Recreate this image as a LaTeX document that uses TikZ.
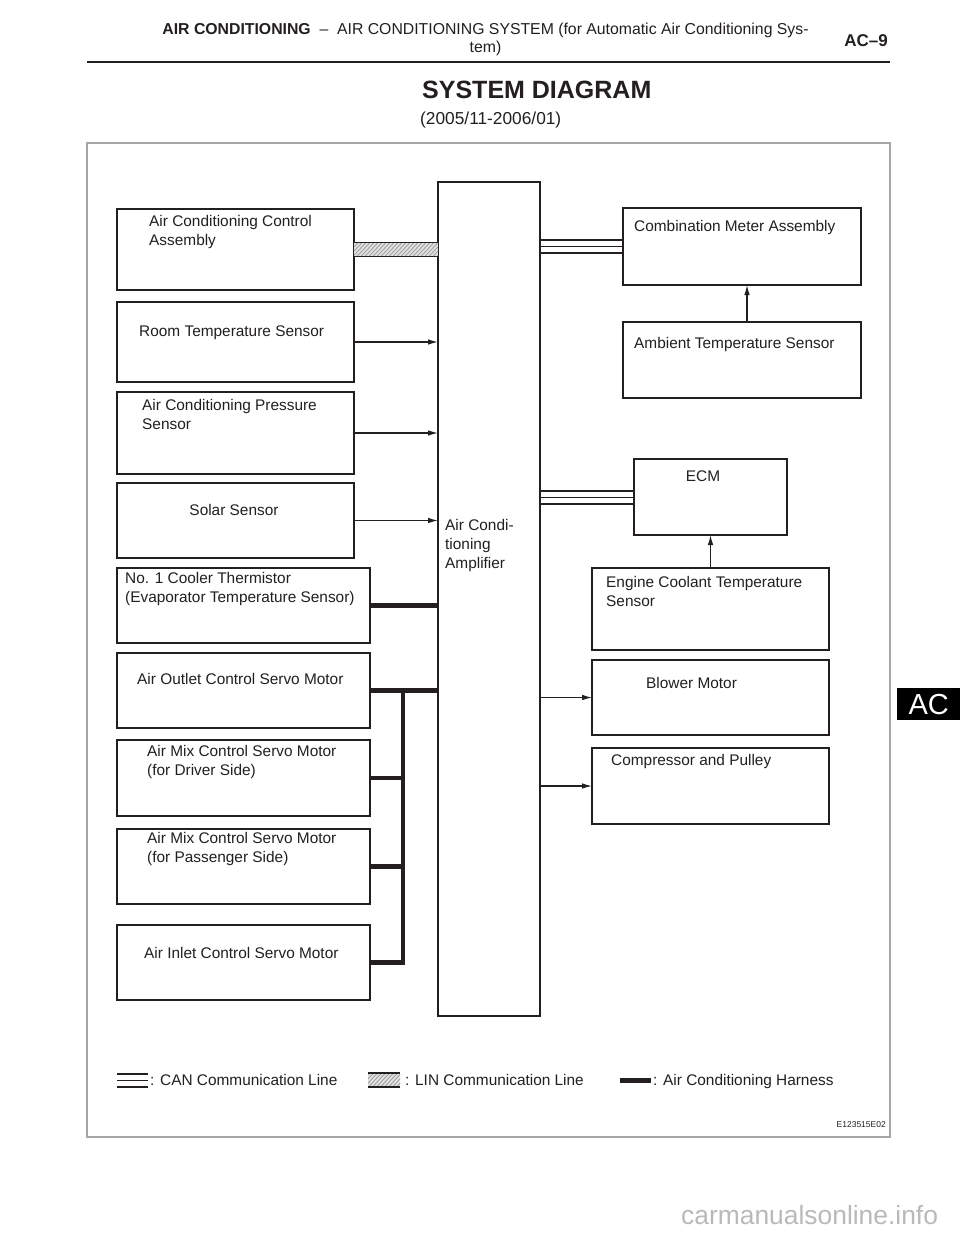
\documentclass[tikz,border=0pt]{standalone}
\usepackage{fontspec}
\setmainfont{Liberation Sans}
\usetikzlibrary{arrows.meta,calc}
\definecolor{ink}{HTML}{231F20}
\newcommand\mybox[5]{\node[box, minimum width={#4-#2}, minimum height={#5-#3}] (#1) at ({(#2+#4)/2},{(#3+#5)/2}) {};}
\tikzset{
  box/.style={draw=ink, line width=2.8pt, inner sep=0pt, outer sep=0pt, fill=white},
  lbl/.style={anchor=north west, inner sep=0pt, align=left, text=ink, font=\fontsize{15.4}{19}\selectfont},
  arr/.style={draw=ink, line width=1.1pt, -{Latex[length=10pt,width=5.5pt]}},
  canout/.style={draw=ink, line width=2pt},
  canmid/.style={draw=ink, line width=0.9pt},
  harness/.style={draw=ink, line width=4.8pt, line join=miter},
  hatchline/.style={draw=gray!75, line width=0.9pt},
  linedge/.style={draw=ink, line width=1.8pt},
}
\begin{document}
\begin{tikzpicture}[x=1pt,y=-1pt]
\useasboundingbox (0,0) rectangle (960,1242);
\fill[white] (0,0) rectangle (960,1242);

% header
\node[anchor=base, inner sep=0pt, text=ink, font=\fontsize{15.8}{18}\selectfont] (hd1) at (485.5,34)
  {\textbf{AIR CONDITIONING}\ \ --\ \ AIR CONDITIONING SYSTEM (for Automatic Air Conditioning Sys-};
\node[anchor=base, inner sep=0pt, text=ink, font=\fontsize{15.8}{18}\selectfont] (hd2) at (485.5,52) {tem)};
\node[anchor=base east, inner sep=0pt, text=ink, font=\bfseries\fontsize{17}{20}\selectfont] (pg) at (888,46) {AC--9};
\draw[ink, line width=2.8pt] (87,62) -- (890,62);
\node[anchor=base west, inner sep=0pt, text=ink, font=\bfseries\fontsize{25}{30}\selectfont] (title) at (422,98) {SYSTEM DIAGRAM};
\node[anchor=base west, inner sep=0pt, text=ink, font=\fontsize{17.3}{20}\selectfont] (sub) at (420,124) {(2005/11-2006/01)};

% AC tab
\node[fill=black, minimum width=63, minimum height=32, inner sep=0pt, anchor=north west, text=white,
      font=\fontsize{29}{30}\selectfont] (tab) at (897,688) {AC};

% frame
\draw[gray!70, line width=1.1pt] (87,143) rectangle (890,1137);

% amplifier
\mybox{amp}{438}{182}{540}{1016}

% left boxes
\mybox{acca}{117}{209}{354}{290}
\mybox{rts}{117}{302}{354}{382}
\mybox{acps}{117}{392}{354}{474}
\mybox{sol}{117}{483}{354}{558}
\mybox{cth}{117}{568}{370}{643}
\mybox{aocs}{117}{653}{370}{728}
\mybox{amd}{117}{740}{370}{816}
\mybox{amps}{117}{829}{370}{904}
\mybox{aics}{117}{925}{370}{1000}

% right boxes
\mybox{cma}{623}{208}{861}{285}
\mybox{ats}{623}{322}{861}{398}
\mybox{ecm}{634}{459}{787}{535}
\mybox{ects}{592}{568}{829}{650}
\mybox{blw}{592}{660}{829}{735}
\mybox{cmp}{592}{748}{829}{824}

% labels
\node[lbl] (t-acca) at (149,215) {Air Conditioning Control\\Assembly};
\node[lbl] (t-rts) at (139,326) {Room Temperature Sensor};
\node[lbl] (t-acps) at (142,399) {Air Conditioning Pressure\\Sensor};
\node[lbl, anchor=north] (t-sol) at (234,504) {Solar Sensor};
\node[lbl] (t-cth) at (125,572) {No. 1 Cooler Thermistor\\(Evaporator Temperature Sensor)};
\node[lbl] (t-aocs) at (137,673) {Air Outlet Control Servo Motor};
\node[lbl] (t-amd) at (147,745) {Air Mix Control Servo Motor\\(for Driver Side)};
\node[lbl] (t-amps) at (147,832) {Air Mix Control Servo Motor\\(for Passenger Side)};
\node[lbl] (t-aics) at (144,947) {Air Inlet Control Servo Motor};
\node[lbl] (t-amp) at (445,519) {Air Condi-\\tioning\\Amplifier};
\node[lbl] (t-cma) at (634,220) {Combination Meter Assembly};
\node[lbl] (t-ats) at (634,337) {Ambient Temperature Sensor};
\node[lbl, anchor=north] (t-ecm) at (703,471) {ECM};
\node[lbl] (t-ects) at (606,576) {Engine Coolant Temperature\\Sensor};
\node[lbl] (t-blw) at (646,677) {Blower Motor};
\node[lbl] (t-cmp) at (611,754) {Compressor and Pulley};

% LIN line
\coordinate (lin1) at ($(acca.east)+(0,-7)$);
\coordinate (lin2) at ($(amp.west |- acca.east)+(0,7)$);
\fill[gray!22] (lin1) rectangle (lin2);
\begin{scope}
  \clip (lin1) rectangle (lin2);
  \foreach \k in {340,344,...,444} {\draw[hatchline] (\k,257.5) -- (\k+14,242.5);}
\end{scope}
\draw[linedge] (lin1) -- (lin1 -| lin2);
\draw[linedge] (lin1 |- lin2) -- (lin2);

% CAN lines
\foreach \dy/\st in {-6.5/canout,0/canmid,6.5/canout} {
  \draw[\st] ($(amp.east |- cma.west)+(0,\dy)$) -- ($(cma.west)+(0,\dy)$);
  \draw[\st] ($(amp.east |- ecm.west)+(0,\dy)$) -- ($(ecm.west)+(0,\dy)$);
}

% sensor arrows
\draw[arr] (rts.east) -- (amp.west |- rts.east);
\draw[arr] (acps.east) -- (amp.west |- acps.east);
\draw[arr] (sol.east) -- (amp.west |- sol.east);
\draw[arr] (amp.east |- blw.west) -- (blw.west);
\draw[arr] (amp.east |- cmp.west) -- (cmp.west);
\coordinate (atsup) at ($(ats.north)+(5,0)$);
\draw[arr] (atsup) -- (atsup |- cma.south);
\draw[arr] (ects.north) -- (ecm.south);

% harness
\draw[harness] (cth.east) -- (amp.west |- cth.east);
\draw[harness] (aocs.east) -- (amp.west |- aocs.east);
\coordinate (bt) at ($(aocs.east)+(33,0)$);
\draw[harness] (bt) -- (bt |- aics.east) -- (aics.east);
\draw[harness] (amd.east) -- (bt |- amd.east);
\draw[harness] (amps.east) -- (bt |- amps.east);

% legend
\coordinate (lg1) at (117,1080);
\draw[canout] ($(lg1)+(0,-6.5)$) -- ++(31,0);
\draw[canmid] (lg1) -- ++(31,0);
\draw[canout] ($(lg1)+(0,6.5)$) -- ++(31,0);
\node[lbl, anchor=base west] (lg-can) at (150,1085) {: CAN Communication Line};
\fill[gray!22] (368,1073) rectangle (400,1087);
\begin{scope}
  \clip (368,1073) rectangle (400,1087);
  \foreach \k in {356,360,...,404} {\draw[hatchline] (\k,1087.5) -- (\k+14,1072.5);}
\end{scope}
\draw[linedge] (368,1073) -- (400,1073);
\draw[linedge] (368,1087) -- (400,1087);
\node[lbl, anchor=base west] (lg-lin) at (405,1085) {: LIN Communication Line};
\draw[ink, line width=5pt] (620,1080) -- (651,1080);
\node[lbl, anchor=base west] (lg-har) at (653,1085) {: Air Conditioning Harness};
\node[anchor=base east, inner sep=0pt, text=ink, font=\fontsize{8.5}{10}\selectfont] (code) at (886,1127) {E123515E02};

% watermark
\node[anchor=base west, inner sep=0pt, text=gray!55, font=\fontsize{26.4}{28}\selectfont] (wm) at (681,1224) {carmanualsonline.info};
\end{tikzpicture}
\end{document}
